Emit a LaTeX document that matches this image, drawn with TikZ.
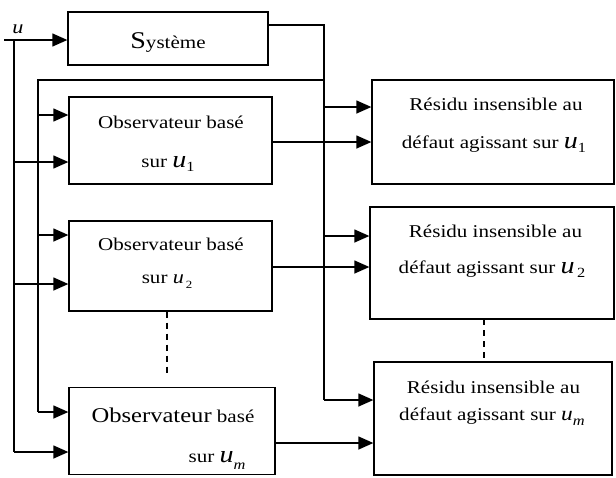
\documentclass[tikz,border=0pt]{standalone}
\usepackage{fontspec}
\setmainfont{Liberation Serif}[FakeStretch=1.17]
\usetikzlibrary{arrows.meta}
\newcommand\fs[1]{\fontsize{#1}{#1}\selectfont}
\newcommand\usb[4]{{\fs{#1}\itshape u}\raisebox{-#4pt}{\fs{#2}#3}}
\begin{document}
\begin{tikzpicture}[x=1pt,y=-1pt,
  box/.style={draw,line width=1.3pt,inner sep=0pt},
  ln/.style={line width=1.3pt},
  arr/.style={line width=1.3pt,-{Triangle[length=15pt,width=13pt]}},
  dsh/.style={line width=1.3pt,dash pattern=on 6pt off 5pt},
  txt/.style={anchor=base,inner sep=0pt,font=\fs{18}}]
\useasboundingbox (0,0) rectangle (616,477);
% boxes
\node[box,minimum width=200pt,minimum height=53pt] (sys) at (168,38.5) {};
\node[box,minimum width=203pt,minimum height=87pt] (obs1) at (170.5,140.5) {};
\node[box,minimum width=203pt,minimum height=90pt] (obs2) at (170.5,266) {};
\node[box,minimum width=206pt,minimum height=87pt] (obsm) at (172,431) {};
\node[box,minimum width=242pt,minimum height=104pt] (res1) at (493,132) {};
\node[box,minimum width=244pt,minimum height=112pt] (res2) at (492,263) {};
\node[box,minimum width=238pt,minimum height=113pt] (resm) at (493,418.5) {};
% texts
\node[txt] (tsys) at (168,48) {{\fs{24}S}ystème};
\node[txt] (tu) at (18,33) {\fs{19}\itshape u};
\node[txt] (to1a) at (171,128) {Observateur basé};
\node[txt] (to1b) at (168,167) {sur \usb{24}{14}{1}{4}};
\node[txt] (to2a) at (171,250) {Observateur basé};
\node[txt] (to2b) at (167,283) {sur \usb{19}{11}{\,2}{5}};
\node[txt] (toma) at (173,422) {{\fs{21}Observateur} basé};
\node[txt] (tomb) at (217,462) {sur \usb{24}{14}{\itshape m}{7}};
\node[txt] (tr1a) at (496,110) {Résidu insensible au};
\node[txt] (tr1b) at (494,148) {défaut agissant sur \usb{24}{14}{1}{4}};
\node[txt] (tr2a) at (495.5,237) {Résidu insensible au};
\node[txt] (tr2b) at (492,273) {défaut agissant sur \usb{24}{14}{\,2}{4}};
\node[txt] (trma) at (493.5,393) {Résidu insensible au};
\node[txt] (trmb) at (492,420) {défaut agissant sur \usb{20}{14}{\itshape m}{5}};
% coordinates
\coordinate (in0) at (4,40);
\coordinate (busA) at (14,40);
\coordinate (a1) at (14,162);
\coordinate (a2) at (14,284);
\coordinate (am) at (14,452);
\coordinate (sy) at (268,25);
\coordinate (yc) at (324,25);
\coordinate (yr) at (324,80);
\coordinate (yl) at (38,80);
\coordinate (b1) at (38,115);
\coordinate (b2) at (38,235);
\coordinate (bm) at (38,412);
\coordinate (r1) at (324,107);
\coordinate (r2) at (324,236);
\coordinate (rm) at (324,400);
\coordinate (o1) at (272,142);
\coordinate (o2) at (272,267);
\coordinate (om) at (275,443);
\coordinate (d1) at (167,373);
\coordinate (d2) at (484,319);
% input bus
\draw[arr] (in0) -- (in0 -| sys.west);
\draw[ln] (busA) -- (am);
\draw[arr] (a1) -- (a1 -| obs1.west);
\draw[arr] (a2) -- (a2 -| obs2.west);
\draw[arr] (am) -- (am -| obsm.west);
% output bus
\draw[ln] (sy -| sys.east) -- (yc) -- (rm);
\draw[arr] (rm) -- (rm -| resm.west);
\draw[ln] (yr) -- (yl) -- (bm);
\draw[arr] (bm) -- (bm -| obsm.west);
\draw[arr] (b1) -- (b1 -| obs1.west);
\draw[arr] (b2) -- (b2 -| obs2.west);
\draw[arr] (r1) -- (r1 -| res1.west);
\draw[arr] (r2) -- (r2 -| res2.west);
% observer outputs
\draw[arr] (o1) -- (o1 -| res1.west);
\draw[arr] (o2) -- (o2 -| res2.west);
\draw[arr] (om) -- (om -| resm.west);
% dashed
\draw[dsh] (obs2.south -| d1) -- (d1);
\draw[dsh] (d2) -- (d2 |- resm.north);
\end{tikzpicture}
\end{document}
